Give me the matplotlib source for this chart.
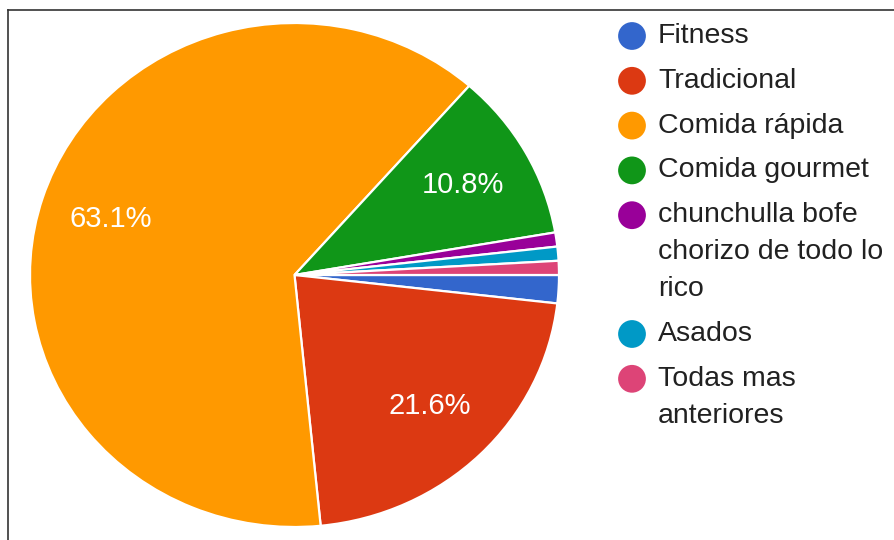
import matplotlib
matplotlib.use('Agg')
import matplotlib.pyplot as plt
from matplotlib.lines import Line2D

# ── Data ─────────────────────────────────────────────────────────
categories = ['Fitness', 'Tradicional', 'Comida rápida', 'Comida gourmet',
              'chunchulla bofe chorizo de todo lo rico', 'Asados',
              'Todas mas anteriores']
legend_lines = ['Fitness', 'Tradicional', 'Comida rápida', 'Comida gourmet',
                'chunchulla bofe\nchorizo de todo lo\nrico', 'Asados',
                'Todas mas\nanteriores']
counts = [2, 24, 70, 12, 1, 1, 1]
colors = ['#3366CC', '#DC3912', '#FF9900', '#109618',
          '#990099', '#0099C6', '#DD4477']

W, H = 894, 540
plt.rcParams['font.family'] = ['Liberation Sans', 'DejaVu Sans']

fig = plt.figure(figsize=(W / 100, H / 100), dpi=100)

# pie occupies x 30..559, y 23..527 (pixels, slightly wider than tall)
ax = fig.add_axes([30 / W, (H - 527) / H, 529 / W, 504 / H])


def pct_label(p):
    return f'{p:.1f}%' if p >= 5 else ''


wedges, texts, autotexts = ax.pie(
    counts, colors=colors, startangle=0, counterclock=False,
    autopct=pct_label, pctdistance=0.73,
    wedgeprops=dict(edgecolor='white', linewidth=1.6),
    textprops=dict(color='white', fontsize=21))
ax.set_aspect('auto')
ax.set_xlim(-1, 1)
ax.set_ylim(-1, 1)
ax.axis('off')

# ── Legend (drawn by hand to keep the wrapped lines) ─────────────
lg = fig.add_axes([0, 0, 1, 1], facecolor='none')
lg.set_xlim(0, W)
lg.set_ylim(H, 0)
lg.axis('off')

y = 36
for label, color in zip(legend_lines, colors):
    lines = label.split('\n')
    lg.scatter([632], [y], s=400, color=color, edgecolor='none')
    for i, line in enumerate(lines):
        lg.text(658, y + i * 37, line, fontsize=20.5, color='#212121',
                va='center', ha='left')
    y += (len(lines) - 1) * 37 + 44.8

# frame lines (top and left edges of the screenshot)
fig.add_artist(Line2D([8 / W, 8 / W], [0, 1 - 10 / H], color='#333333', lw=1.2))
fig.add_artist(Line2D([8 / W, 1], [1 - 10 / H, 1 - 10 / H], color='#333333', lw=1.2))

fig.savefig('out.png', dpi=100)
